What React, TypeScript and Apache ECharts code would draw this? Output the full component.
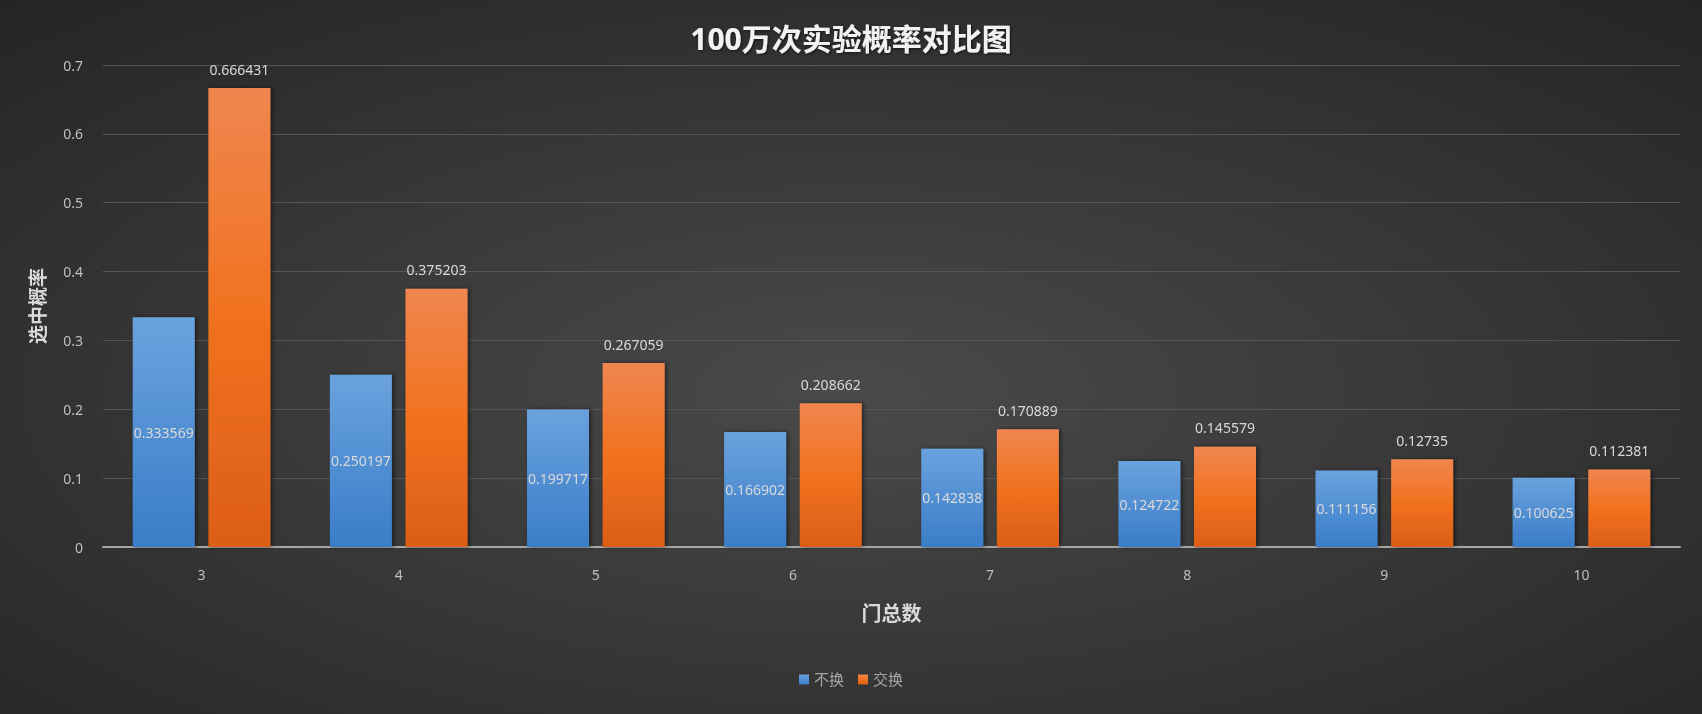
import React, { useEffect, useRef } from "react";
import * as echarts from "echarts";

const categories = ["3", "4", "5", "6", "7", "8", "9", "10"];
const noSwitch = [0.333569, 0.250197, 0.199717, 0.166902, 0.142838, 0.124722, 0.111156, 0.100625];
const doSwitch = [0.666431, 0.375203, 0.267059, 0.208662, 0.170889, 0.145579, 0.12735, 0.112381];
const seriesNames = ["不换", "交换"];
const titleText = "100万次实验概率对比图";
const yName = "选中概率";
const xName = "门总数";

const FONT = "'Noto Sans', 'Noto Sans CJK SC', sans-serif";

export default function App() {
  const ref = useRef<HTMLDivElement>(null);
  useEffect(() => {
    if (!ref.current) return;
    const chart = echarts.init(ref.current, null, { renderer: "svg" });
    chart.setOption({
      animation: false,
      backgroundColor: {
        type: "radial",
        x: 0.5,
        y: 0.55,
        r: 0.75,
        colorStops: [
          { offset: 0, color: "#4a4a4a" },
          { offset: 1, color: "#242424" },
        ],
      },
      title: {
        text: titleText,
        left: "center",
        top: 18,
        textStyle: {
          color: "#f2f2f2",
          fontSize: 30,
          fontWeight: "bold",
          fontFamily: FONT,
          textShadowColor: "rgba(0,0,0,0.6)",
          textShadowBlur: 3,
          textShadowOffsetX: 1,
          textShadowOffsetY: 1,
        },
      },
      legend: {
        bottom: 22,
        left: "center",
        itemWidth: 10,
        itemHeight: 10,
        itemGap: 14,
        icon: "rect",
        textStyle: { color: "#a6a6a6", fontSize: 15, fontFamily: FONT },
        data: seriesNames,
      },
      grid: { left: 103, right: 22, top: 65, bottom: 167, containLabel: false },
      xAxis: {
        type: "category",
        data: categories,
        name: xName,
        nameLocation: "middle",
        nameGap: 56,
        nameTextStyle: { color: "#d9d9d9", fontSize: 20, fontWeight: "bold", fontFamily: FONT },
        axisLine: { lineStyle: { color: "#a6a6a6", width: 2 } },
        axisTick: { show: false },
        axisLabel: { color: "#bfbfbf", fontSize: 14, margin: 20, fontFamily: FONT },
      },
      yAxis: {
        type: "value",
        min: 0,
        max: 0.7,
        interval: 0.1,
        name: yName,
        nameLocation: "middle",
        nameGap: 56,
        nameRotate: 90,
        nameTextStyle: { color: "#d9d9d9", fontSize: 19, fontWeight: "bold", fontFamily: FONT },
        axisLine: { show: false },
        axisTick: { show: false },
        axisLabel: { color: "#bfbfbf", fontSize: 14, margin: 20, fontFamily: FONT },
        splitLine: { lineStyle: { color: "#555555", width: 1 } },
      },
      series: [
        {
          name: seriesNames[0],
          type: "bar",
          data: noSwitch,
          barWidth: 62,
          barGap: "22%",
          itemStyle: {
            color: {
              type: "linear", x: 0, y: 0, x2: 0, y2: 1,
              colorStops: [
                { offset: 0, color: "#6aa2de" },
                { offset: 1, color: "#3a7dc8" },
              ],
            },
            shadowColor: "rgba(0,0,0,0.5)",
            shadowBlur: 4,
            shadowOffsetX: 2,
          },
          label: {
            show: true,
            position: "inside",
            color: "#d9d9d9",
            fontSize: 14,
            fontFamily: FONT,
          },
        },
        {
          name: seriesNames[1],
          type: "bar",
          data: doSwitch,
          barWidth: 62,
          barGap: "22%",
          itemStyle: {
            color: {
              type: "linear", x: 0, y: 0, x2: 0, y2: 1,
              colorStops: [
                { offset: 0, color: "#f0864f" },
                { offset: 0.5, color: "#f1721f" },
                { offset: 1, color: "#dc5e18" },
              ],
            },
            shadowColor: "rgba(0,0,0,0.5)",
            shadowBlur: 4,
            shadowOffsetX: 2,
          },
          label: {
            show: true,
            position: "top",
            distance: 12,
            color: "#d9d9d9",
            fontSize: 14,
            fontFamily: FONT,
          },
        },
      ],
    });
    return () => chart.dispose();
  }, []);
  return (
    <div
      ref={ref}
      style={{ position: "fixed", left: 0, top: 0, width: 1702, height: 714 }}
    />
  );
}
